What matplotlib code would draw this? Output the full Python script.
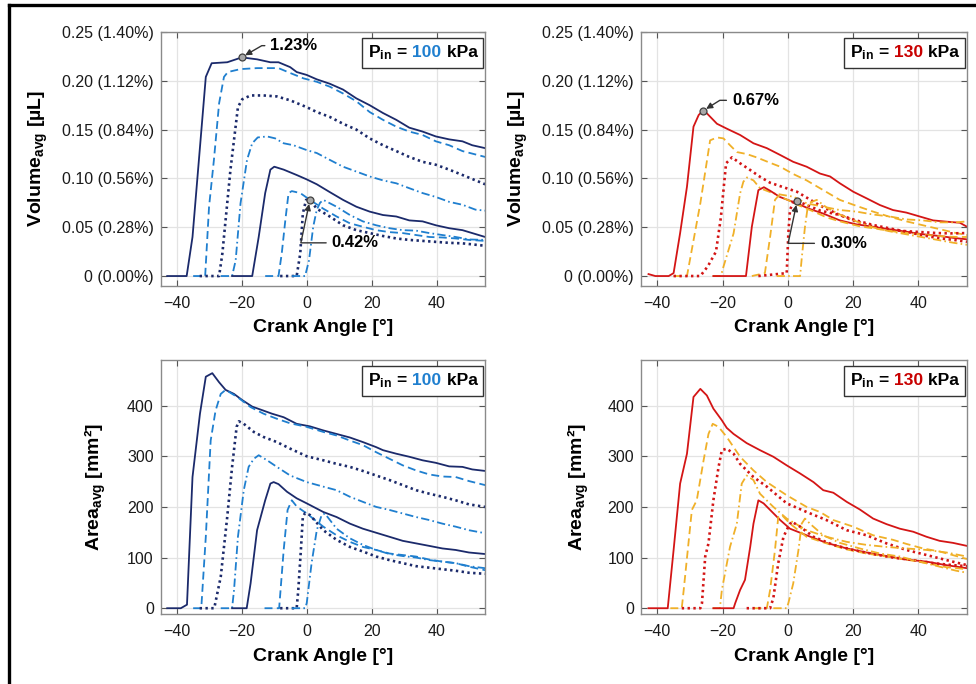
import matplotlib
matplotlib.use('Agg')
import matplotlib.pyplot as plt
from matplotlib.offsetbox import TextArea, HPacker, AnchoredOffsetbox
from matplotlib.lines import Line2D

plt.rcParams['font.family'] = ['Liberation Sans', 'DejaVu Sans']
plt.rcParams['mathtext.fontset'] = 'custom'
plt.rcParams['mathtext.rm'] = 'Liberation Sans'
plt.rcParams['mathtext.bf'] = 'Liberation Sans:bold'
plt.rcParams['mathtext.it'] = 'Liberation Sans:italic'

# ---------------- data: volume, Pin = 100 kPa ----------------
v100_s1_x = [-43, -37, -35.2, -31.1, -29.3, -24.5, -20, -15.3, -11.2, -8.7, -5.1, -3.1, 0, 3.1, 7.1, 11.2, 15.3, 19.4, 23.5, 27.6, 31.6, 35.7, 39.8, 43.9, 48, 51, 55]
v100_s1_y = [0, 0, 0.040, 0.204, 0.218, 0.219, 0.224, 0.222, 0.219, 0.219, 0.214, 0.209, 0.206, 0.2015, 0.197, 0.191, 0.182, 0.175, 0.167, 0.160, 0.152, 0.148, 0.143, 0.140, 0.138, 0.134, 0.131]
v100_d1_x = [-35, -31.3, -30.1, -28.6, -27.0, -25.5, -24.3, -20.4, -15.3, -8.7, -5.1, -1.0, 3.1, 7.1, 11.2, 15.3, 19.4, 23.5, 27.6, 31.6, 35.7, 39.8, 43.9, 48.0, 55]
v100_d1_y = [0, 0, 0.071, 0.119, 0.177, 0.204, 0.209, 0.212, 0.213, 0.213, 0.208, 0.2025, 0.199, 0.194, 0.187, 0.179, 0.168, 0.160, 0.153, 0.148, 0.1445, 0.138, 0.134, 0.128, 0.122]
v100_o1_x = [-33, -27.0, -26.0, -23.5, -21.2, -19.9, -17.3, -13.3, -9.2, -5.1, 0, 3.1, 7.1, 11.2, 15.3, 19.4, 23.5, 27.6, 31.6, 35.7, 39.8, 43.9, 48.0, 55]
v100_o1_y = [0, 0, 0.023, 0.109, 0.173, 0.181, 0.185, 0.185, 0.184, 0.180, 0.173, 0.168, 0.163, 0.156, 0.150, 0.141, 0.134, 0.128, 0.122, 0.117, 0.114, 0.109, 0.1035, 0.094]
v100_dd1_x = [-26.5, -23.0, -21.9, -20.4, -18.4, -16.8, -15.1, -12.2, -9.7, -7.1, -4.1, 0, 3.1, 7.1, 11.2, 15.3, 19.4, 23.5, 27.6, 31.6, 35.7, 39.8, 43.9, 48.0, 52.0, 55]
v100_dd1_y = [0, 0, 0.016, 0.0745, 0.119, 0.136, 0.142, 0.143, 0.141, 0.136, 0.134, 0.129, 0.126, 0.119, 0.112, 0.107, 0.102, 0.098, 0.095, 0.090, 0.085, 0.081, 0.076, 0.073, 0.068, 0.067]
v100_s2_x = [-23, -16.8, -14.8, -12.8, -11.2, -10.0, -7.1, -3.1, 0, 3.1, 7.1, 11.2, 15.3, 19.4, 23.5, 27.6, 31.6, 35.7, 39.8, 43.9, 48.0, 55]
v100_s2_y = [0, 0, 0.040, 0.085, 0.109, 0.112, 0.109, 0.1035, 0.099, 0.094, 0.086, 0.078, 0.071, 0.066, 0.0625, 0.061, 0.057, 0.056, 0.052, 0.049, 0.047, 0.040]
v100_d2_x = [-12.8, -8.7, -7.7, -6.6, -5.6, -4.6, -2.0, 1.0, 5.1, 9.2, 13.3, 17.3, 21.4, 25.5, 29.6, 33.7, 37.8, 41.8, 45.9, 50.0, 55]
v100_d2_y = [0, 0, 0.023, 0.057, 0.085, 0.087, 0.085, 0.078, 0.069, 0.061, 0.054, 0.0505, 0.047, 0.045, 0.044, 0.042, 0.040, 0.0395, 0.0385, 0.037, 0.036]
v100_o2_x = [-8.2, -3.1, -2.0, -1.2, -0.2, 1.0, 3.1, 7.1, 11.2, 15.3, 19.4, 23.5, 27.6, 31.6, 35.7, 39.8, 43.9, 48.0, 55]
v100_o2_y = [0, 0, 0.023, 0.064, 0.078, 0.078, 0.069, 0.061, 0.052, 0.047, 0.044, 0.041, 0.0385, 0.037, 0.036, 0.035, 0.034, 0.0335, 0.031]
v100_dd2_x = [-4.6, -0.5, 0.7, 2.0, 3.1, 4.1, 5.1, 9.2, 13.3, 17.3, 21.4, 25.5, 29.6, 33.7, 37.8, 41.8, 45.9, 50.0, 55]
v100_dd2_y = [0, 0, 0.016, 0.0505, 0.068, 0.075, 0.078, 0.071, 0.0625, 0.056, 0.052, 0.049, 0.047, 0.0465, 0.044, 0.042, 0.040, 0.0375, 0.037]

# ---------------- data: volume, Pin = 130 kPa ----------------
v130_s1_x = [-42.7, -40.6, -36.5, -35, -33, -30.9, -28.9, -27.3, -26.1, -24.8, -21.7, -18.7, -14.6, -10.5, -6.4, -2.3, 1.7, 5.8, 9.9, 13.0, 16.0, 20.1, 24.2, 28.3, 32.3, 36.4, 40.5, 44.6, 48.7, 52.8, 55]
v130_s1_y = [0.002, 0, 0, 0.003, 0.044, 0.0915, 0.153, 0.165, 0.169, 0.1667, 0.156, 0.151, 0.1445, 0.136, 0.131, 0.124, 0.117, 0.112, 0.105, 0.102, 0.095, 0.0864, 0.0796, 0.0727, 0.0676, 0.065, 0.061, 0.057, 0.0557, 0.0546, 0.0505]
v130_d1_x = [-35, -30.9, -26.8, -23.8, -21.7, -19.7, -17.7, -15.6, -12.6, -9.5, -5.4, -2.3, 1.7, 5.8, 10.9, 16.0, 21.0, 26.2, 31.0, 36.4, 41.5, 46.6, 51.7, 55]
v130_d1_y = [0, 0, 0.0745, 0.139, 0.142, 0.141, 0.134, 0.127, 0.125, 0.1215, 0.116, 0.112, 0.1045, 0.098, 0.088, 0.078, 0.072, 0.066, 0.061, 0.056, 0.052, 0.048, 0.044, 0.042]
v130_o1_x = [-35, -26.8, -24.5, -22.0, -20.5, -19.5, -18.9, -17.1, -14.6, -11.5, -8.5, -5.4, -2.4, 2.8, 6, 10, 15, 20, 25, 30, 36, 41, 46, 50, 55]
v130_o1_y = [0, 0, 0.010, 0.025, 0.060, 0.095, 0.1155, 0.1216, 0.1155, 0.1086, 0.1017, 0.0956, 0.0922, 0.0864, 0.080, 0.072, 0.064, 0.057, 0.052, 0.048, 0.046, 0.045, 0.044, 0.0437, 0.044]
v130_dd1_x = [-23, -20.5, -19.7, -16.6, -14.6, -13.6, -12.5, -10.5, -8.5, -4.4, 1.7, 5.8, 10.9, 16.0, 21.1, 26.2, 31.3, 36.4, 41.5, 46.6, 51.7, 55]
v130_dd1_y = [0, 0, 0.0096, 0.0437, 0.0847, 0.0966, 0.101, 0.098, 0.090, 0.0847, 0.0813, 0.0745, 0.071, 0.0676, 0.066, 0.063, 0.061, 0.058, 0.057, 0.055, 0.055, 0.056]
v130_s2_x = [-22.8, -12.8, -11.0, -9.0, -7.3, -5.4, -2.4, 2.8, 6.5, 10.9, 16.0, 21.0, 26.2, 31.0, 36.4, 41.0, 46.6, 51.0, 55]
v130_s2_y = [0, 0, 0.0505, 0.088, 0.091, 0.0874, 0.081, 0.0745, 0.069, 0.064, 0.057, 0.053, 0.0505, 0.048, 0.0454, 0.043, 0.041, 0.039, 0.0376]
v130_d2_x = [-11, -7, -5.4, -3.9, -2.9, 0, 3, 8, 12, 16, 22, 28, 34, 40, 46, 52, 55]
v130_d2_y = [0, 0.003, 0.040, 0.078, 0.082, 0.078, 0.073, 0.066, 0.060, 0.056, 0.051, 0.048, 0.045, 0.043, 0.041, 0.040, 0.040]
v130_o2_x = [-9, -0.3, 0.2, 0.7, 1.7, 2.9, 5.8, 10, 16.0, 21, 26.2, 31, 36.4, 41, 46.6, 51, 55]
v130_o2_y = [0, 0.003, 0.0437, 0.0676, 0.076, 0.077, 0.0727, 0.067, 0.0625, 0.057, 0.0523, 0.049, 0.0454, 0.042, 0.0386, 0.037, 0.035]
v130_dd2_x = [-3.4, 3.8, 4.3, 5.3, 6.3, 8.9, 12, 16, 21, 26, 31, 36, 41, 46, 51, 55]
v130_dd2_y = [0, 0, 0.018, 0.0505, 0.0745, 0.078, 0.070, 0.063, 0.056, 0.050, 0.046, 0.043, 0.040, 0.037, 0.034, 0.032]

# ---------------- data: area, Pin = 100 kPa ----------------
a100_s1_x = [-43, -38.8, -36.9, -35.2, -32.9, -31.1, -29.1, -27.0, -25.0, -22.4, -19.9, -16.8, -13.3, -10.7, -7.1, -3.1, 1.0, 5.1, 9.2, 13.3, 17.3, 21.4, 23.5, 27.6, 31.6, 35.7, 39.8, 43.9, 48.0, 51.0, 55]
a100_s1_y = [0, 0, 7, 259, 384, 457, 464, 446, 431, 423, 411, 398, 390, 384, 377, 364, 359, 351, 344, 337, 328, 318, 312, 305, 299, 292, 287, 280, 279, 274, 271]
a100_d1_x = [-35, -32.5, -31.1, -29.6, -28.1, -26.5, -25.0, -21.4, -17.3, -13.3, -9.2, -5.1, 0, 5.1, 9.2, 13.3, 17.3, 21.4, 25.5, 29.6, 33.7, 37.8, 41.8, 45.9, 50.0, 55]
a100_d1_y = [0, 0, 141, 331, 390, 423, 431, 417, 397, 384, 374, 365, 358, 348, 341, 331, 322, 308, 295, 282, 272, 264, 260, 259, 251, 243]
a100_o1_x = [-33, -28.5, -26.5, -24.5, -23.0, -21.6, -20.9, -19.4, -16.3, -13.3, -9.2, -5.1, 0, 5.1, 9.2, 13.3, 17.3, 21.4, 25.5, 29.6, 33.7, 37.8, 41.8, 45.9, 50.0, 55]
a100_o1_y = [0, 0, 62, 180, 279, 358, 369, 364, 348, 338, 328, 315, 300, 292, 285, 279, 271, 262, 253, 243, 233, 226, 220, 213, 205, 200]
a100_dd1_x = [-26.5, -23, -22.4, -21.2, -19.4, -17.9, -16.3, -14.8, -12.2, -9.2, -5.1, 0, 5.1, 9.2, 13.3, 17.3, 21.4, 25.5, 29.6, 33.7, 37.8, 41.8, 45.9, 50.0, 55]
a100_dd1_y = [0, 0, 36, 141, 233, 279, 295, 302, 292, 279, 262, 249, 240, 233, 220, 210, 200, 194, 187, 180, 174, 167, 161, 154, 148]
a100_s2_x = [-23, -18.5, -17.3, -15.3, -12.8, -11.2, -10.2, -8.7, -6.1, -3.1, 0, 5.1, 9.2, 13.3, 17.3, 21.4, 25.5, 29.6, 33.7, 37.8, 41.8, 45.9, 50.0, 55]
a100_s2_y = [0, 0, 49, 154, 213, 246, 249, 245, 230, 217, 207, 190, 180, 167, 157, 149, 141, 133, 128, 123, 118, 115, 110, 107]
a100_d2_x = [-13, -8.5, -7.1, -5.9, -4.6, -3.1, 0, 5.1, 9.2, 13.3, 17.3, 21.4, 25.5, 29.6, 33.7, 37.8, 41.8, 45.9, 50.0, 55]
a100_d2_y = [0, 0, 115, 194, 213, 201, 187, 161, 144, 131, 121, 115, 108, 105, 102, 96, 92, 89, 82, 75]
a100_o2_x = [-8.2, -3.1, -2.6, -1.8, -1.2, -0.5, 1.0, 5.1, 9.2, 13.3, 17.3, 21.4, 25.5, 29.6, 33.7, 37.8, 41.8, 45.9, 50.0, 55]
a100_o2_y = [0, 0, 36, 115, 180, 188, 184, 154, 135, 121, 112, 102, 95, 89, 83, 80, 77, 74, 70, 68]
a100_dd2_x = [-4.6, -0.5, 0, 1.5, 3.1, 4.6, 5.6, 9.2, 13.3, 17.3, 21.4, 25.5, 29.6, 33.7, 37.8, 41.8, 45.9, 50.0, 55]
a100_dd2_y = [0, 0, 10, 89, 154, 184, 187, 157, 138, 125, 115, 107, 103, 100, 95, 92, 89, 83, 79]

# ---------------- data: area, Pin = 130 kPa ----------------
a130_s1_x = [-42.7, -36.8, -35.0, -33.0, -30.9, -28.9, -26.8, -24.8, -22.8, -20.2, -18.7, -16.6, -12.6, -8.5, -4.4, -0.3, 3.8, 7.9, 10.9, 14.0, 18.1, 22.1, 26.2, 30.3, 34.4, 38.5, 42.6, 46.6, 50.7, 55]
a130_s1_y = [0, 0, 115, 246, 305, 417, 433, 420, 394, 371, 356, 344, 326, 312, 299, 282, 266, 249, 233, 228, 210, 195, 177, 166, 157, 151, 141, 133, 129, 123]
a130_d1_x = [-36, -32.5, -31.9, -29.4, -27.9, -25.8, -24.3, -23.0, -21.2, -18.7, -14.6, -10.5, -6.4, -0.3, 5.8, 9.9, 14.0, 20.1, 26.2, 32.3, 36.4, 41.5, 46.6, 51.7, 55]
a130_d1_y = [0, 0, 36, 194, 213, 292, 344, 364, 358, 338, 299, 272, 249, 223, 200, 190, 174, 161, 144, 135, 127, 118, 112, 103, 97]
a130_o1_x = [-32.5, -26.8, -26.3, -25.3, -24.3, -22.8, -21.2, -20.2, -18.7, -16.6, -14.6, -10.5, -6.4, -0.3, 5.8, 11.9, 18.1, 24.2, 30.3, 36.4, 42.6, 48.7, 55]
a130_o1_y = [0, 0, 10, 102, 128, 213, 279, 312, 315, 305, 285, 259, 240, 207, 190, 174, 154, 144, 128, 115, 105, 95, 85]
a130_dd1_x = [-23, -20.8, -20.2, -17.7, -15.6, -14.1, -12.6, -10.5, -8.5, -4.4, -0.3, 5.8, 11.9, 18.1, 24.2, 30.3, 36.4, 42.6, 48.7, 55]
a130_dd1_y = [0, 0, 36, 121, 167, 246, 262, 253, 226, 200, 177, 154, 141, 131, 125, 121, 118, 115, 110, 102]
a130_s2_x = [-22.8, -16.6, -16.1, -14.6, -13.1, -11.5, -10.5, -9.0, -7.4, -5.4, -2.3, 0.7, 5.8, 11.9, 18.1, 24.2, 30.3, 36.4, 42.6, 48.7, 55]
a130_s2_y = [0, 0, 10, 36, 56, 121, 167, 213, 207, 194, 174, 157, 144, 129, 118, 110, 103, 96, 92, 85, 79]
a130_d2_x = [-10.5, -6.4, -5.4, -3.9, -2.9, -1.8, 0.7, 5.8, 11.9, 18.1, 24.2, 30.3, 36.4, 42.6, 48.7, 55]
a130_d2_y = [0, 0, 36, 115, 180, 184, 167, 141, 128, 116, 108, 102, 96, 89, 81, 77]
a130_o2_x = [-12.6, -5.4, -4.4, -2.9, -1.3, 0.2, 1.2, 3.8, 7.9, 14.0, 20.1, 26.2, 32.3, 38.5, 44.6, 50.7, 55]
a130_o2_y = [0, 0, 20, 89, 141, 161, 171, 161, 141, 125, 115, 107, 100, 95, 89, 85, 83]
a130_dd2_x = [-4.4, -0.3, 0.2, 1.7, 3.3, 4.3, 5.3, 6.8, 10.9, 16.0, 22.1, 28.3, 34.4, 40.5, 46.6, 51.7, 55]
a130_dd2_y = [0, 0, 10, 49, 115, 167, 177, 167, 144, 129, 118, 108, 102, 92, 82, 74, 70]

# annotated points (crank angle, volume) and labels
v100_marks_x = [-20.1, 1.0]
v100_marks_y = [0.224, 0.078]
v100_marks_lbl = ['1.23%', '0.42%']
v130_marks_x = [-26.1, 2.9]
v130_marks_y = [0.169, 0.077]
v130_marks_lbl = ['0.67%', '0.30%']

vol_ticks = [0, 0.05, 0.10, 0.15, 0.20, 0.25]
vol_ticklabels = ['0 (0.00%)', '0.05 (0.28%)', '0.10 (0.56%)', '0.15 (0.84%)', '0.20 (1.12%)', '0.25 (1.40%)']
area_ticks = [0, 100, 200, 300, 400]
x_ticks = [-40, -20, 0, 20, 40]
pressures = ['100', '130']

# ---------------- styles ----------------
NAVY = '#1b2a6b'
BLUE = '#1f7fcf'
RED = '#d41515'
ORANGE = '#f0b028'
LW = 1.3
DASH = (0, (4.4, 2.4))
DOT = (0, (0.9, 1.3))
DASHDOT = (0, (4.6, 1.8, 0.9, 1.8))

def styles(c_main, c_alt):
    return [dict(color=c_main, ls='-', lw=LW),
            dict(color=c_alt, ls=DASH, lw=LW),
            dict(color=c_main, ls=DOT, lw=1.9),
            dict(color=c_alt, ls=DASHDOT, lw=LW)] * 2

fig = plt.figure(figsize=(9.76, 6.84), dpi=100)

axL = 160.7 / 976
axR = 641 / 976
wL = 324.5 / 976
wR = 326 / 976
top_b = 1 - 285.8 / 684
top_h = 253.8 / 684
bot_b = 1 - 614.3 / 684
bot_h = 254.3 / 684

ax_tl = fig.add_axes([axL, top_b, wL, top_h])
ax_tr = fig.add_axes([axR, top_b, wR, top_h])
ax_bl = fig.add_axes([axL, bot_b, wL, bot_h])
ax_br = fig.add_axes([axR, bot_b, wR, bot_h])

series_tl = [(v100_s1_x, v100_s1_y), (v100_d1_x, v100_d1_y), (v100_o1_x, v100_o1_y), (v100_dd1_x, v100_dd1_y),
             (v100_s2_x, v100_s2_y), (v100_d2_x, v100_d2_y), (v100_o2_x, v100_o2_y), (v100_dd2_x, v100_dd2_y)]
series_tr = [(v130_s1_x, v130_s1_y), (v130_d1_x, v130_d1_y), (v130_o1_x, v130_o1_y), (v130_dd1_x, v130_dd1_y),
             (v130_s2_x, v130_s2_y), (v130_d2_x, v130_d2_y), (v130_o2_x, v130_o2_y), (v130_dd2_x, v130_dd2_y)]
series_bl = [(a100_s1_x, a100_s1_y), (a100_d1_x, a100_d1_y), (a100_o1_x, a100_o1_y), (a100_dd1_x, a100_dd1_y),
             (a100_s2_x, a100_s2_y), (a100_d2_x, a100_d2_y), (a100_o2_x, a100_o2_y), (a100_dd2_x, a100_dd2_y)]
series_br = [(a130_s1_x, a130_s1_y), (a130_d1_x, a130_d1_y), (a130_o1_x, a130_o1_y), (a130_dd1_x, a130_dd1_y),
             (a130_s2_x, a130_s2_y), (a130_d2_x, a130_d2_y), (a130_o2_x, a130_o2_y), (a130_dd2_x, a130_dd2_y)]

TICK_FS = 11.5
LABEL_FS = 14

def style_axes(ax):
    ax.set_xlim(-45, 55)
    ax.set_xticks(x_ticks)
    ax.grid(True, color='#e3e3e3', lw=0.9)
    ax.set_axisbelow(True)
    for s in ax.spines.values():
        s.set_color('#8a8a8a')
        s.set_linewidth(1.0)
    ax.tick_params(direction='in', length=4, width=0.8, color='#555555',
                   top=True, right=True, labelsize=TICK_FS, labelcolor='#1a1a1a')
    ax.tick_params(axis='x', pad=7)
    ax.tick_params(axis='y', pad=5)
    ax.set_xlabel('Crank Angle [°]', fontsize=LABEL_FS, fontweight='bold')
    ax.xaxis.set_label_coords(0.5, -0.165)
    ax.xaxis.label.set_va('center')

def pin_box(ax, val, color):
    props = dict(fontsize=12.6, fontweight='bold')
    t1 = TextArea(r'P$_\mathbf{in}$ =', textprops=dict(color='black', **props))
    t2 = TextArea(' ' + val, textprops=dict(color=color, **props))
    t3 = TextArea(' kPa', textprops=dict(color='black', **props))
    box = HPacker(children=[t1, t2, t3], align='baseline', pad=0, sep=0)
    anc = AnchoredOffsetbox(loc='upper right', child=box, pad=0.42, frameon=True,
                            bbox_to_anchor=(0.994, 0.978), bbox_transform=ax.transAxes,
                            borderpad=0)
    anc.patch.set_edgecolor('#333333')
    anc.patch.set_linewidth(1.0)
    anc.zorder = 5
    ax.add_artist(anc)

for ax, series, cols in [(ax_tl, series_tl, (NAVY, BLUE)), (ax_tr, series_tr, (RED, ORANGE)),
                         (ax_bl, series_bl, (NAVY, BLUE)), (ax_br, series_br, (RED, ORANGE))]:
    for (xs, ys), st in zip(series, styles(*cols)):
        ax.plot(xs, ys, **st)
    style_axes(ax)

for ax, lx in ((ax_tl, -0.378), (ax_tr, -0.377)):
    ax.set_ylim(-0.01, 0.25)
    ax.set_yticks(vol_ticks)
    ax.set_yticklabels(vol_ticklabels)
    ax.set_ylabel(r'Volume$_\mathbf{avg}$ [µL]', fontsize=LABEL_FS, fontweight='bold')
    ax.yaxis.label.set_va('center')
    ax.yaxis.set_label_coords(lx, 0.5)

for ax, lx in ((ax_bl, -0.2), (ax_br, -0.193)):
    ax.set_ylim(-12, 490)
    ax.set_yticks(area_ticks)
    ax.set_ylabel(r'Area$_\mathbf{avg}$ [mm²]', fontsize=LABEL_FS, fontweight='bold')
    ax.yaxis.label.set_va('center')
    ax.yaxis.set_label_coords(lx, 0.5)

pin_box(ax_tl, pressures[0], '#1f7fcf')
pin_box(ax_bl, pressures[0], '#1f7fcf')
pin_box(ax_tr, pressures[1], '#c80000')
pin_box(ax_br, pressures[1], '#c80000')

# annotations with markers
ann_text_pos = {
    ('tl', 0): (-11.2, 0.236, 0, 30),
    ('tl', 1): (7.7, 0.034, 0, 78),
    ('tr', 0): (-17.1, 0.180, 0, 32),
    ('tr', 1): (9.9, 0.0335, 0, 78),
}
for key, ax, mx, my, lbls in [('tl', ax_tl, v100_marks_x, v100_marks_y, v100_marks_lbl),
                              ('tr', ax_tr, v130_marks_x, v130_marks_y, v130_marks_lbl)]:
    ax.plot(mx, my, 'o', ms=5, mfc='#a8a8a8', mec='#404040', mew=0.9, zorder=6)
    for i, (x0, y0, lab) in enumerate(zip(mx, my, lbls)):
        tx, ty, aA, aB = ann_text_pos[(key, i)]
        ax.annotate(lab, xy=(x0, y0), xytext=(tx, ty), fontsize=12, fontweight='bold',
                    ha='left', va='center', zorder=7,
                    arrowprops=dict(arrowstyle='-|>', color='#333333', lw=1.0,
                                    mutation_scale=9, shrinkA=2, shrinkB=3,
                                    connectionstyle='angle,angleA=%d,angleB=%d,rad=0' % (aA, aB)))

# figure border (top and left)
fig.add_artist(Line2D([9 / 976, 1.0], [1 - 4.5 / 684, 1 - 4.5 / 684], color='black', lw=2.4,
                      transform=fig.transFigure))
fig.add_artist(Line2D([9 / 976, 9 / 976], [0, 1 - 4.5 / 684], color='black', lw=2.4,
                      transform=fig.transFigure))

fig.savefig('out.png', dpi=100)
